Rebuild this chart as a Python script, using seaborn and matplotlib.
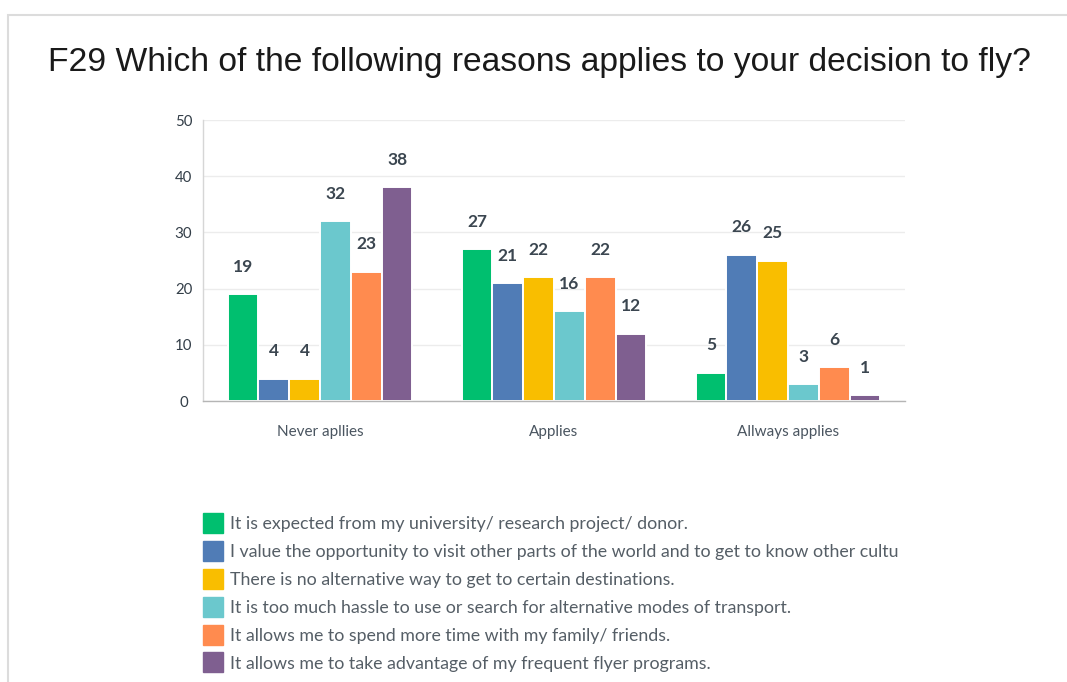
import matplotlib
matplotlib.use("Agg")
import matplotlib.pyplot as plt
from matplotlib.patches import Rectangle
from matplotlib.lines import Line2D
import seaborn as sns
import pandas as pd

title = "F29 Which of the following reasons applies to your decision to fly?"
categories = ["Never apllies", "Applies", "Allways applies"]
reasons = [
    "It is expected from my university/ research project/ donor.",
    "I value the opportunity to visit other parts of the world and to get to know other cultu",
    "There is no alternative way to get to certain destinations.",
    "It is too much hassle to use or search for alternative modes of transport.",
    "It allows me to spend more time with my family/ friends.",
    "It allows me to take advantage of my frequent flyer programs.",
]
expected = [19, 27, 5]
value_travel = [4, 21, 26]
no_alternative = [4, 22, 25]
hassle = [32, 16, 3]
family = [23, 22, 6]
flyer = [38, 12, 1]
colors = ["#00BF6F", "#507CB6", "#F9BE00", "#6BC8CD", "#FF8B4F", "#7F5F90"]
y_ticks = [0, 10, 20, 30, 40, 50]

series = [expected, value_travel, no_alternative, hassle, family, flyer]
rows = []
for reason, vals in zip(reasons, series):
    for cat, v in zip(categories, vals):
        rows.append({"category": cat, "reason": reason, "count": v})
df = pd.DataFrame(rows)

sns.set_style("white")
plt.rcParams["font.family"] = ["Lato", "DejaVu Sans"]

fig = plt.figure(figsize=(10.67, 6.82), dpi=100)
ax = fig.add_axes([0.1903, 0.412, 0.6579, 0.412])

sns.barplot(data=df, x="category", y="count", hue="reason", order=categories,
            hue_order=reasons, palette=colors, width=0.79, saturation=1,
            edgecolor="white", linewidth=1.4, ax=ax, legend=False)

for cont in ax.containers:
    ax.bar_label(cont, padding=14, fontsize=12.5, fontweight="bold", color="#3b4650")

ax.set_ylim(0, 50)
ax.set_xlim(-0.5, 2.5)
ax.set_yticks(y_ticks)
ax.set_xlabel("")
ax.set_ylabel("")
ax.yaxis.grid(True, color="#ececec", linewidth=1)
ax.set_axisbelow(True)
ax.tick_params(axis="y", length=0, pad=14, labelsize=10.8, labelcolor="#333e48")
ax.tick_params(axis="x", length=0, pad=17, labelsize=11, labelcolor="#4a5560")
for lbl in ax.get_yticklabels():
    lbl.set_horizontalalignment("center")
ax.spines["top"].set_visible(False)
ax.spines["right"].set_visible(False)
ax.spines["left"].set_color("#d6d6d6")
ax.spines["bottom"].set_color("#b5b5b5")
ax.spines["left"].set_linewidth(1)
ax.spines["bottom"].set_linewidth(1)

# Panel frame
fig.patches.append(Rectangle((8 / 1067, -0.1), 1.2, 1 - 15 / 682 + 0.1,
                             transform=fig.transFigure, fill=False,
                             edgecolor="#dcdcdc", linewidth=1.5))

fig.text(0.506, 1 - 63 / 682, title, ha="center", va="center",
         fontsize=24.2, color="#1a1a1a", family=["Liberation Sans", "DejaVu Sans"])

# Legend
handles = [Line2D([], [], linestyle="none", marker="s", markersize=14,
                  markerfacecolor=c, markeredgecolor=c) for c in colors]
leg = fig.legend(handles, reasons, loc="upper left",
                 bbox_to_anchor=(196 / 1067, 1 - 509 / 682), frameon=False,
                 fontsize=12.8, labelspacing=0.67, handletextpad=0.4,
                 handlelength=1.1, borderaxespad=0)
for t in leg.get_texts():
    t.set_color("#555e66")

fig.savefig("out.png", dpi=100)
